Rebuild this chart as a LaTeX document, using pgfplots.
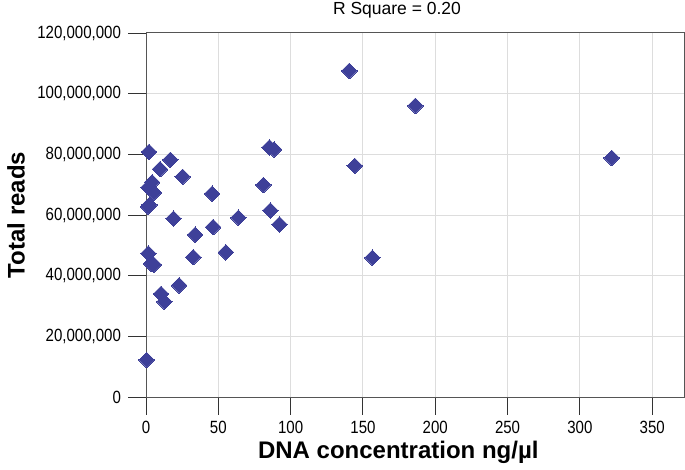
\documentclass[border=0pt]{standalone}
\usepackage{fontspec}
\setmainfont{Liberation Sans}
\newfontfamily\ticklab[FakeStretch=0.85]{Liberation Sans}
\usepackage{pgfplots}
\pgfplotsset{compat=1.18}
\definecolor{pts}{RGB}{62,64,153}
\definecolor{gridc}{RGB}{221,221,221}
\definecolor{framec}{RGB}{85,85,85}
\begin{document}
\begin{tikzpicture}[x=1pt,y=1pt]
\path[use as bounding box] (0,0) rectangle (685,469);
\begin{axis}[
  at={(146pt,72pt)}, anchor=south west,
  scale only axis, width=538pt, height=364pt,
  xmin=0, xmax=372, ymin=0, ymax=120000000,
  xtick={0,50,...,350},
  ytick={0,20000000,40000000,60000000,80000000,100000000,120000000},
  scaled y ticks=false, scaled x ticks=false,
  /pgf/number format/.cd, fixed, precision=0, 1000 sep={,}, assume math mode=true,
  /pgfplots/.cd,
  tick label style={font=\ticklab\fontsize{17.7}{19}\selectfont, text=black},
  yticklabel style={xshift=-4pt},
  xticklabel style={yshift=-3pt},
  xtick pos=bottom, ytick pos=left,
  tick align=outside, major tick length=17.5pt,
  tick style={color=black!80, line width=0.9pt},
  axis line style={color=framec, line width=1pt},
  grid=major, major grid style={color=gridc, line width=1pt},
  clip=false,
  title={R Square = 0.20},
  title style={font=\fontsize{17.5}{19}\selectfont, at={(axis description cs:0.4665,1.063)}, anchor=center, yshift=-6pt},
  xlabel={DNA concentration ng/µl},
  xlabel style={font=\fontsize{24}{26}\selectfont\bfseries, at={(axis description cs:0.469,-0.151)}, anchor=center},
  ylabel={Total reads},
  ylabel style={font=\fontsize{24}{26}\selectfont\bfseries, at={(axis description cs:-0.2416,0.5)}, anchor=center, rotate=0},
]
\addplot[only marks, mark=square*, mark size=5.5pt, mark options={rotate=45, fill=pts, draw=pts, line width=0pt}] coordinates {
(140.6,107500000)
(186.3,96000000)
(322,78800000)
(144.3,76200000)
(156.5,45900000)
(85.4,82300000)
(88.6,81600000)
(81.2,69900000)
(86.0,61500000)
(92.3,56900000)
(63.9,59100000)
(45.7,67000000)
(46.4,56000000)
(55.2,47700000)
(34.0,53500000)
(32.7,46100000)
(25.3,72600000)
(16.8,78200000)
(9.7,75100000)
(19.0,58800000)
(22.9,36800000)
(10.4,34000000)
(12.7,31400000)
(2.1,80800000)
(0.4,12200000)
(4.2,70800000)
(1.8,69100000)
(5.5,67400000)
(1.4,62800000)
(2.3,63300000)
(1.6,47300000)
(3.5,44000000)
(5.5,43600000)
};
\end{axis}
\end{tikzpicture}
\end{document}
